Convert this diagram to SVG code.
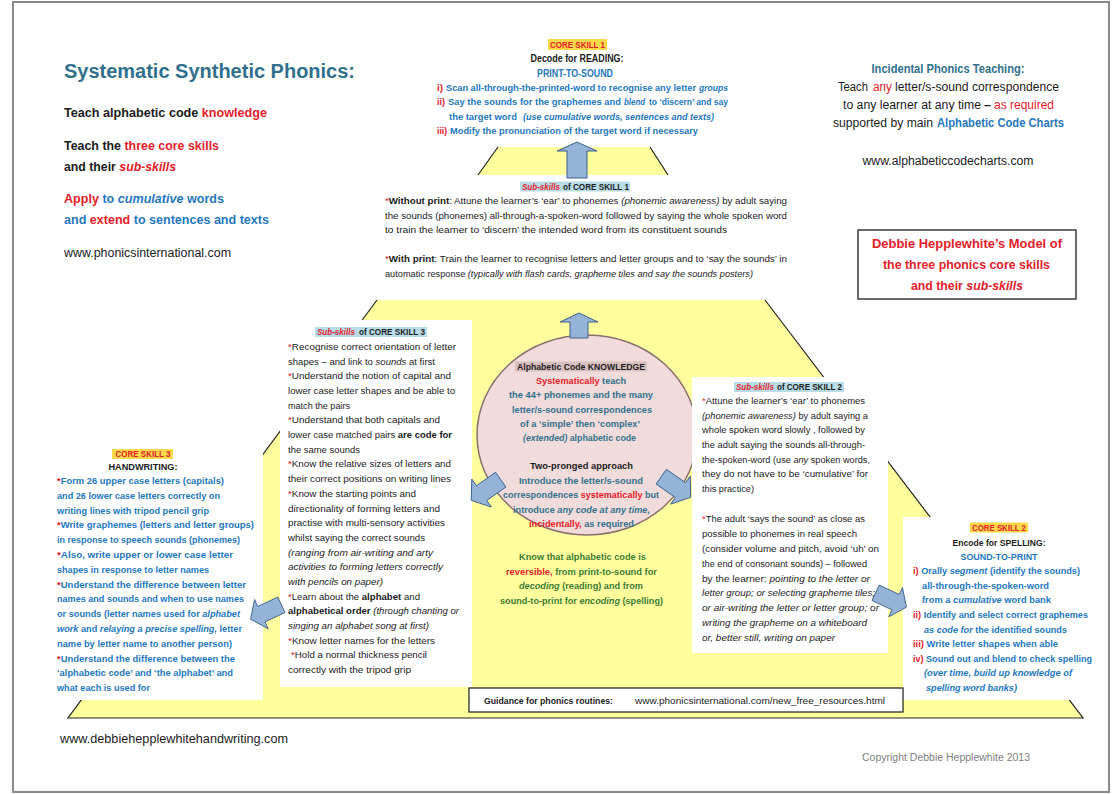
<svg xmlns="http://www.w3.org/2000/svg" width="1115" height="794" viewBox="0 0 1115 794">
<defs>
<style>
text{font-family:"Liberation Sans",Arial,sans-serif;font-size:9.5px;fill:#1b1b1b}
.b{font-weight:bold}
.i{font-style:italic}
.r{fill:#e5202a}
.u{fill:#2478c0}
.t{fill:#30708d}
.g{fill:#3d7c34}
.f20{font-size:20px}
.f122{font-size:12.2px}
.f12{font-size:12px}
.f125{font-size:12.5px}
.f10{font-size:10px}
.f92{font-size:9.2px}
.f91{font-size:9.1px}
.f9{font-size:9px}
.f89{font-size:8.9px}
.f87{font-size:8.7px}
.f83{font-size:8.3px}
.box{fill:#ffffff}
.yl{fill:#ffff9e}
.edge{fill:none;stroke:#222;stroke-width:1.2}
.arr{fill:#95b3d7;stroke:#3c5f8f;stroke-width:1}
.hc{fill:#ffd84a}
.hs{fill:#b7dde8}
</style>
<path id="ar" d="M0,-20 L19,-6 L10,-6 L10,20 L-10,20 L-10,-6 L-19,-6 Z"/>
</defs>
<rect x="0" y="0" width="1115" height="794" fill="#ffffff"/>
<rect x="13" y="2" width="1096" height="790" fill="none" stroke="#8a8a8a" stroke-width="2"/>

<g id="background-shapes">
<polygon class="yl" points="498,147 650,147 668,175 478,175"/>
<path class="edge" d="M498,147 L478,175 M650,147 L668,175"/>
<polygon class="yl" points="377,300 765,300 1083,718 68,718"/>
<path class="edge" d="M377,300 L68,718 L1083,718 L765,300"/>
</g>

<g id="title-block">
<text x="64" y="78" class="b t f20" textLength="291" lengthAdjust="spacingAndGlyphs">Systematic Synthetic Phonics:</text>
<text x="64" y="117" class="b f122" textLength="203" lengthAdjust="spacingAndGlyphs">Teach alphabetic code <tspan class="r">knowledge</tspan></text>
<text x="64" y="150" class="b f122" textLength="155" lengthAdjust="spacingAndGlyphs">Teach the <tspan class="r">three core skills</tspan></text>
<text x="64" y="171" class="b f122" textLength="112" lengthAdjust="spacingAndGlyphs">and their <tspan class="r i">sub-skills</tspan></text>
<text x="64" y="203" class="b f122 u" textLength="160" lengthAdjust="spacingAndGlyphs"><tspan class="r">Apply</tspan> to <tspan class="i">cumulative</tspan> words</text>
<text x="64" y="224" class="b f122 u" textLength="205" lengthAdjust="spacingAndGlyphs">and <tspan class="r">extend</tspan> to sentences and texts</text>
<text x="64" y="257" class="f125" textLength="167" lengthAdjust="spacingAndGlyphs">www.phonicsinternational.com</text>
</g>

<g id="core-skill-1">
<rect x="548" y="39" width="59" height="11" class="hc"/>
<text x="550" y="48" class="b r f9" textLength="55" lengthAdjust="spacingAndGlyphs">CORE SKILL 1</text>
<text x="530.5" y="62" class="b f10" textLength="93" lengthAdjust="spacingAndGlyphs">Decode for READING:</text>
<text x="537" y="77" class="b u f10" textLength="76" lengthAdjust="spacingAndGlyphs">PRINT-TO-SOUND</text>
<text x="437" y="91" class="b r f9" textLength="6" lengthAdjust="spacingAndGlyphs">i)</text>
<text x="446" y="91" class="b u f9" textLength="250" lengthAdjust="spacingAndGlyphs">Scan all-through-the-printed-word to recognise any letter</text>
<text x="699" y="91" class="b u i f9" textLength="29" lengthAdjust="spacingAndGlyphs">groups</text>
<text x="437" y="105.3" class="b r f9" textLength="8" lengthAdjust="spacingAndGlyphs">ii)</text>
<text x="448" y="105.3" class="b u f9" textLength="173" lengthAdjust="spacingAndGlyphs">Say the sounds for the graphemes and</text>
<text x="624" y="105.3" class="b u i f9" textLength="21" lengthAdjust="spacingAndGlyphs">blend</text>
<text x="649" y="105.3" class="b u f9" textLength="79" lengthAdjust="spacingAndGlyphs">to ‘discern’ and say</text>
<text x="449" y="119.7" class="b u f9" textLength="68" lengthAdjust="spacingAndGlyphs">the target word</text>
<text x="523" y="119.7" class="b u i f9" textLength="191" lengthAdjust="spacingAndGlyphs">(use cumulative words, sentences and texts)</text>
<text x="437" y="134" class="b r f9" textLength="10" lengthAdjust="spacingAndGlyphs">iii)</text>
<text x="450" y="134" class="b u f9" textLength="248" lengthAdjust="spacingAndGlyphs">Modify the pronunciation of the target word if necessary</text>
</g>

<g id="incidental-teaching">
<text x="871.5" y="73" class="b t f12" textLength="153" lengthAdjust="spacingAndGlyphs">Incidental Phonics Teaching:</text>
<text x="838" y="91" class="f12" textLength="30" lengthAdjust="spacingAndGlyphs">Teach</text>
<text x="873" y="91" class="f12 r" textLength="19" lengthAdjust="spacingAndGlyphs">any</text>
<text x="895" y="91" class="f12" textLength="164" lengthAdjust="spacingAndGlyphs">letter/s-sound correspondence</text>
<text x="843" y="109" class="f12" textLength="138" lengthAdjust="spacingAndGlyphs">to any learner at any time</text>
<text x="984" y="109" class="f12 b" textLength="7" lengthAdjust="spacingAndGlyphs">–</text>
<text x="994" y="109" class="f12 r" textLength="60" lengthAdjust="spacingAndGlyphs">as required</text>
<text x="833" y="127" class="f12" textLength="100" lengthAdjust="spacingAndGlyphs">supported by main</text>
<text x="937" y="127" class="f12 b u" textLength="127" lengthAdjust="spacingAndGlyphs">Alphabetic Code Charts</text>
<text x="862.5" y="165" class="f12" textLength="171" lengthAdjust="spacingAndGlyphs">www.alphabeticcodecharts.com</text>
</g>

<g id="model-title">
<rect x="858" y="230" width="218" height="69" fill="#ffffff" stroke="#3a3a3a" stroke-width="1.5"/>
<text x="872" y="248" class="b r f122" textLength="190" lengthAdjust="spacingAndGlyphs">Debbie Hepplewhite’s Model of</text>
<text x="883" y="269" class="b r f122" textLength="167" lengthAdjust="spacingAndGlyphs">the three phonics core skills</text>
<text x="911" y="290" class="b r f122" textLength="112" lengthAdjust="spacingAndGlyphs">and their <tspan class="i">sub-skills</tspan></text>
</g>

<g id="sub-skills-1">
<rect x="520" y="181.5" width="110" height="10" class="hs"/>
<text x="522" y="189.5" class="b r i f83" textLength="38" lengthAdjust="spacingAndGlyphs">Sub-skills</text>
<text x="563" y="189.5" class="b f83" textLength="66" lengthAdjust="spacingAndGlyphs">of CORE SKILL 1</text>
<text x="385" y="204" textLength="402" lengthAdjust="spacingAndGlyphs"><tspan class="r">*</tspan><tspan class="b">Without print</tspan>:  Attune the learner’s ‘ear’ to phonemes <tspan class="i">(phonemic awareness)</tspan> by adult saying</text>
<text x="385" y="218.5" textLength="402" lengthAdjust="spacingAndGlyphs">the sounds (phonemes) all-through-a-spoken-word followed by saying the whole spoken word</text>
<text x="385" y="233" textLength="342" lengthAdjust="spacingAndGlyphs">to train the learner to ‘discern’ the intended word from its constituent sounds</text>
<text x="385" y="262" textLength="402" lengthAdjust="spacingAndGlyphs"><tspan class="r">*</tspan><tspan class="b">With print</tspan>:  Train the learner to recognise letters and letter groups and to ‘say the sounds’ in</text>
<text x="385" y="277" class="f91" textLength="368" lengthAdjust="spacingAndGlyphs">automatic response <tspan class="i">(typically with flash cards, grapheme tiles and say the sounds posters)</tspan></text>
</g>

<g id="core-skill-3">
<rect x="52" y="440" width="211" height="260" class="box"/>
<rect x="112" y="449" width="61" height="10" class="hc"/>
<text x="115.5" y="457" class="b r f9" textLength="55" lengthAdjust="spacingAndGlyphs">CORE SKILL 3</text>
<text x="108.5" y="469.5" class="b" textLength="69" lengthAdjust="spacingAndGlyphs">HANDWRITING:</text>
<text x="57" y="484" class="b u f91" textLength="167" lengthAdjust="spacingAndGlyphs"><tspan class="r">*</tspan>Form 26 upper case letters (capitals)</text>
<text x="57" y="498.8" class="b u f91" textLength="163" lengthAdjust="spacingAndGlyphs">and 26 lower case letters correctly on</text>
<text x="57" y="513.6" class="b u f91" textLength="152" lengthAdjust="spacingAndGlyphs">writing lines with tripod pencil grip</text>
<text x="57" y="528.4" class="b u f91" textLength="197" lengthAdjust="spacingAndGlyphs"><tspan class="r">*</tspan>Write graphemes (letters and letter groups)</text>
<text x="57" y="543.1" class="b u f91" textLength="183" lengthAdjust="spacingAndGlyphs">in response to speech sounds (phonemes)</text>
<text x="57" y="557.9" class="b u f91" textLength="176" lengthAdjust="spacingAndGlyphs"><tspan class="r">*</tspan>Also, write upper or lower case letter</text>
<text x="57" y="572.7" class="b u f91" textLength="152" lengthAdjust="spacingAndGlyphs">shapes in response to letter names</text>
<text x="57" y="587.5" class="b u f91" textLength="189" lengthAdjust="spacingAndGlyphs"><tspan class="r">*</tspan>Understand the difference between letter</text>
<text x="57" y="602.3" class="b u f91" textLength="187" lengthAdjust="spacingAndGlyphs">names and sounds and when to use names</text>
<text x="57" y="617.1" class="b u f91" textLength="183" lengthAdjust="spacingAndGlyphs">or sounds (letter names used for <tspan class="i">alphabet</tspan></text>
<text x="57" y="631.9" class="b u f91" textLength="185" lengthAdjust="spacingAndGlyphs"><tspan class="i">work</tspan> and <tspan class="i">relaying a precise spelling,</tspan> letter</text>
<text x="57" y="646.7" class="b u f91" textLength="175" lengthAdjust="spacingAndGlyphs">name by letter name to another person)</text>
<text x="57" y="661.5" class="b u f91" textLength="178" lengthAdjust="spacingAndGlyphs"><tspan class="r">*</tspan>Understand the difference between the</text>
<text x="57" y="676.3" class="b u f91" textLength="176" lengthAdjust="spacingAndGlyphs">‘alphabetic code’ and ‘the alphabet’ and</text>
<text x="57" y="691" class="b u f91" textLength="93" lengthAdjust="spacingAndGlyphs">what each is used for</text>
</g>

<g id="sub-skills-3">
<rect x="280" y="320" width="192" height="367" class="box"/>
<rect x="315" y="327" width="112" height="10" class="hs"/>
<text x="317" y="335" class="b r i f83" textLength="38" lengthAdjust="spacingAndGlyphs">Sub-skills</text>
<text x="359" y="335" class="b f83" textLength="66" lengthAdjust="spacingAndGlyphs">of CORE SKILL 3</text>
<text x="288" y="350" textLength="168" lengthAdjust="spacingAndGlyphs"><tspan class="r">*</tspan>Recognise correct orientation of letter</text>
<text x="288" y="364.7" textLength="147" lengthAdjust="spacingAndGlyphs">shapes – and link to <tspan class="i">sounds</tspan> at first</text>
<text x="288" y="379.4" textLength="163" lengthAdjust="spacingAndGlyphs"><tspan class="r">*</tspan>Understand the notion of capital and</text>
<text x="288" y="394" textLength="167" lengthAdjust="spacingAndGlyphs">lower case letter shapes and be able to</text>
<text x="288" y="408.7" textLength="62" lengthAdjust="spacingAndGlyphs">match the pairs</text>
<text x="288" y="423.4" textLength="152" lengthAdjust="spacingAndGlyphs"><tspan class="r">*</tspan>Understand that both capitals and</text>
<text x="288" y="438.1" class="f92" textLength="164" lengthAdjust="spacingAndGlyphs">lower case matched pairs <tspan class="b">are code for</tspan></text>
<text x="288" y="452.8" textLength="72" lengthAdjust="spacingAndGlyphs">the same sounds</text>
<text x="288" y="467.4" textLength="163" lengthAdjust="spacingAndGlyphs"><tspan class="r">*</tspan>Know the relative sizes of letters and</text>
<text x="288" y="482.1" textLength="163" lengthAdjust="spacingAndGlyphs">their correct positions on writing lines</text>
<text x="288" y="496.8" textLength="128" lengthAdjust="spacingAndGlyphs"><tspan class="r">*</tspan>Know the starting points and</text>
<text x="288" y="511.5" textLength="152" lengthAdjust="spacingAndGlyphs">directionality of forming letters and</text>
<text x="288" y="526.2" textLength="157" lengthAdjust="spacingAndGlyphs">practise with multi-sensory activities</text>
<text x="288" y="540.8" textLength="137" lengthAdjust="spacingAndGlyphs">whilst saying the correct sounds</text>
<text x="288" y="555.5" class="i" textLength="145" lengthAdjust="spacingAndGlyphs">(ranging from air-writing and arty</text>
<text x="288" y="570.2" class="i" textLength="155" lengthAdjust="spacingAndGlyphs">activities to forming letters correctly</text>
<text x="288" y="584.9" class="i" textLength="95" lengthAdjust="spacingAndGlyphs">with pencils on paper)</text>
<text x="288" y="599.6" textLength="132" lengthAdjust="spacingAndGlyphs"><tspan class="r">*</tspan>Learn about the <tspan class="b">alphabet</tspan> and</text>
<text x="288" y="614.2" textLength="171" lengthAdjust="spacingAndGlyphs"><tspan class="b">alphabetical order</tspan> <tspan class="i">(through chanting or</tspan></text>
<text x="288" y="628.9" class="i" textLength="141" lengthAdjust="spacingAndGlyphs">singing an alphabet song at first)</text>
<text x="288" y="643.6" textLength="147" lengthAdjust="spacingAndGlyphs"><tspan class="r">*</tspan>Know letter names for the letters</text>
<text x="291" y="658.3" textLength="136" lengthAdjust="spacingAndGlyphs"><tspan class="r">*</tspan>Hold a normal thickness pencil</text>
<text x="288" y="673" textLength="123" lengthAdjust="spacingAndGlyphs">correctly with the tripod grip</text>
</g>

<g id="alphabetic-code-knowledge">
<ellipse cx="587" cy="435" rx="110" ry="100" fill="#f2dcdb" stroke="#8a6d6d" stroke-width="1.5"/>
<rect x="515" y="361.5" width="132" height="10" fill="#d9c0c0"/>
<text x="517" y="370" class="b f87" textLength="128" lengthAdjust="spacingAndGlyphs">Alphabetic Code KNOWLEDGE</text>
<text x="536" y="384.2" class="b t f87" textLength="90" lengthAdjust="spacingAndGlyphs"><tspan class="r">Systematically</tspan> teach</text>
<text x="509" y="398.4" class="b t f87" textLength="144" lengthAdjust="spacingAndGlyphs">the 44+ phonemes and the many</text>
<text x="512" y="412.6" class="b t f87" textLength="140" lengthAdjust="spacingAndGlyphs">letter/s-sound correspondences</text>
<text x="520" y="426.8" class="b t f87" textLength="120" lengthAdjust="spacingAndGlyphs">of a ‘simple’ then ‘complex’</text>
<text x="523" y="441" class="b t f87" textLength="113" lengthAdjust="spacingAndGlyphs"><tspan class="i">(extended)</tspan> alphabetic code</text>
<text x="530" y="469" class="b f87" textLength="103" lengthAdjust="spacingAndGlyphs">Two-pronged approach</text>
<text x="519" y="483.5" class="b t f87" textLength="124" lengthAdjust="spacingAndGlyphs">Introduce the letter/s-sound</text>
<text x="503" y="498" class="b t f87" textLength="156" lengthAdjust="spacingAndGlyphs">correspondences <tspan class="r">systematically</tspan> but</text>
<text x="513" y="512.5" class="b t f87" textLength="137" lengthAdjust="spacingAndGlyphs">introduce <tspan class="i">any code at any time,</tspan></text>
<text x="529" y="527" class="b t f87" textLength="105" lengthAdjust="spacingAndGlyphs"><tspan class="r">incidentally,</tspan> as required</text>
<text x="519" y="560" class="b g f87" textLength="127" lengthAdjust="spacingAndGlyphs">Know that alphabetic code is</text>
<text x="506" y="574.5" class="b g f87" textLength="151" lengthAdjust="spacingAndGlyphs"><tspan class="r">reversible,</tspan> from print-to-sound for</text>
<text x="519" y="589" class="b g f87" textLength="124" lengthAdjust="spacingAndGlyphs"><tspan class="i">decoding</tspan> (reading) and from</text>
<text x="500" y="603.5" class="b g f87" textLength="163" lengthAdjust="spacingAndGlyphs">sound-to-print for <tspan class="i">encoding</tspan> (spelling)</text>
</g>

<g id="sub-skills-2">
<rect x="692" y="377" width="196" height="276" class="box"/>
<rect x="734" y="382" width="110" height="10" class="hs"/>
<text x="736" y="390" class="b r i f83" textLength="38" lengthAdjust="spacingAndGlyphs">Sub-skills</text>
<text x="777" y="390" class="b f83" textLength="65" lengthAdjust="spacingAndGlyphs">of CORE SKILL 2</text>
<text x="702" y="404" class="f92" textLength="163" lengthAdjust="spacingAndGlyphs"><tspan class="r">*</tspan>Attune the learner’s ‘ear’ to phonemes</text>
<text x="702" y="418.7" class="f92" textLength="166" lengthAdjust="spacingAndGlyphs"><tspan class="i">(phonemic awareness)</tspan> by adult saying a</text>
<text x="702" y="433.3" class="f92" textLength="163" lengthAdjust="spacingAndGlyphs">whole spoken word slowly , followed by</text>
<text x="702" y="448" class="f92" textLength="163" lengthAdjust="spacingAndGlyphs">the adult saying the sounds all-through-</text>
<text x="702" y="462.7" class="f89" textLength="168" lengthAdjust="spacingAndGlyphs">the-spoken-word (use <tspan class="i">any</tspan> spoken words,</text>
<text x="702" y="477.3" class="f92" textLength="166" lengthAdjust="spacingAndGlyphs">they do not have to be ‘cumulative’ for</text>
<text x="702" y="492" class="f92" textLength="52" lengthAdjust="spacingAndGlyphs">this practice)</text>
<text x="702" y="522" class="f92" textLength="163" lengthAdjust="spacingAndGlyphs"><tspan class="r">*</tspan>The adult ‘says the sound’ as close as</text>
<text x="702" y="536.9" class="f92" textLength="155" lengthAdjust="spacingAndGlyphs">possible to phonemes in real speech</text>
<text x="702" y="551.8" class="f92" textLength="177" lengthAdjust="spacingAndGlyphs">(consider volume and pitch, avoid ‘uh’ on</text>
<text x="702" y="566.6" class="f92" textLength="165" lengthAdjust="spacingAndGlyphs">the end of consonant sounds) – followed</text>
<text x="702" y="581.5" class="f92" textLength="168" lengthAdjust="spacingAndGlyphs">by the learner: <tspan class="i">pointing to the letter or</tspan></text>
<text x="702" y="596.4" class="i f92" textLength="173" lengthAdjust="spacingAndGlyphs">letter group; or selecting grapheme tiles;</text>
<text x="702" y="611.3" class="i f92" textLength="177" lengthAdjust="spacingAndGlyphs">or air-writing the letter or letter group; or</text>
<text x="702" y="626.1" class="i f92" textLength="165" lengthAdjust="spacingAndGlyphs">writing the grapheme on a whiteboard</text>
<text x="702" y="641" class="i f92" textLength="133" lengthAdjust="spacingAndGlyphs">or, better still, writing on paper</text>
</g>

<g id="core-skill-2">
<rect x="903" y="517" width="197" height="183" class="box"/>
<rect x="970" y="522.5" width="58" height="10" class="hc"/>
<text x="972" y="531" class="b r f9" textLength="54" lengthAdjust="spacingAndGlyphs">CORE SKILL 2</text>
<text x="952.5" y="545.5" class="b" textLength="93" lengthAdjust="spacingAndGlyphs">Encode for SPELLING:</text>
<text x="960.5" y="559.5" class="b u" textLength="77" lengthAdjust="spacingAndGlyphs">SOUND-TO-PRINT</text>
<text x="913" y="574" class="b u f9" textLength="167" lengthAdjust="spacingAndGlyphs"><tspan class="r">i)</tspan> Orally <tspan class="i">segment</tspan> (identify the sounds)</text>
<text x="922" y="588.6" class="b u f9" textLength="127" lengthAdjust="spacingAndGlyphs">all-through-the-spoken-word</text>
<text x="922" y="603.3" class="b u f9" textLength="129" lengthAdjust="spacingAndGlyphs">from a <tspan class="i">cumulative</tspan> word bank</text>
<text x="913" y="617.9" class="b u f9" textLength="175" lengthAdjust="spacingAndGlyphs"><tspan class="r">ii)</tspan> Identify and select correct graphemes</text>
<text x="924" y="632.5" class="b u f9" textLength="143" lengthAdjust="spacingAndGlyphs"><tspan class="i">as code for</tspan> the identified sounds</text>
<text x="913" y="647.1" class="b u f9" textLength="145" lengthAdjust="spacingAndGlyphs"><tspan class="r">iii)</tspan> Write letter shapes when able</text>
<text x="913" y="661.8" class="b u f9" textLength="179" lengthAdjust="spacingAndGlyphs"><tspan class="r">iv)</tspan> Sound out and blend to check spelling</text>
<text x="924" y="676.4" class="b u i f9" textLength="148" lengthAdjust="spacingAndGlyphs">(over time, build up knowledge of</text>
<text x="926" y="691" class="b u i f9" textLength="91" lengthAdjust="spacingAndGlyphs">spelling word banks)</text>
</g>

<g id="guidance">
<rect x="469" y="688" width="434" height="24" fill="#ffffff" stroke="#1b1b1b" stroke-width="1.2"/>
<text x="484" y="704" class="b" textLength="129" lengthAdjust="spacingAndGlyphs">Guidance for phonics routines:</text>
<text x="635" y="704" textLength="250" lengthAdjust="spacingAndGlyphs">www.phonicsinternational.com/new_free_resources.html</text>
</g>

<g id="footer">
<text x="60" y="743" class="f125" textLength="228" lengthAdjust="spacingAndGlyphs">www.debbiehepplewhitehandwriting.com</text>
<text x="862" y="761" class="f10" style="fill:#808080" textLength="168" lengthAdjust="spacingAndGlyphs">Copyright Debbie Hepplewhite 2013</text>
</g>

<g id="connectors">
<path class="arr" d="M577,142 L597,151 L587,151 L587,178 L567,178 L567,151 L557,151 Z"/>
<path class="arr" d="M579,313 L598,322 L588,322 L588,338 L570,338 L570,322 L560,322 Z"/>
<use href="#ar" class="arr" transform="translate(486,490) rotate(-125) scale(0.9)"/>
<use href="#ar" class="arr" transform="translate(676,487) rotate(125) scale(0.9)"/>
<use href="#ar" class="arr" transform="translate(266,612) rotate(-115) scale(0.85)"/>
<use href="#ar" class="arr" transform="translate(891,600) rotate(115) scale(0.85)"/>
</g>
</svg>
